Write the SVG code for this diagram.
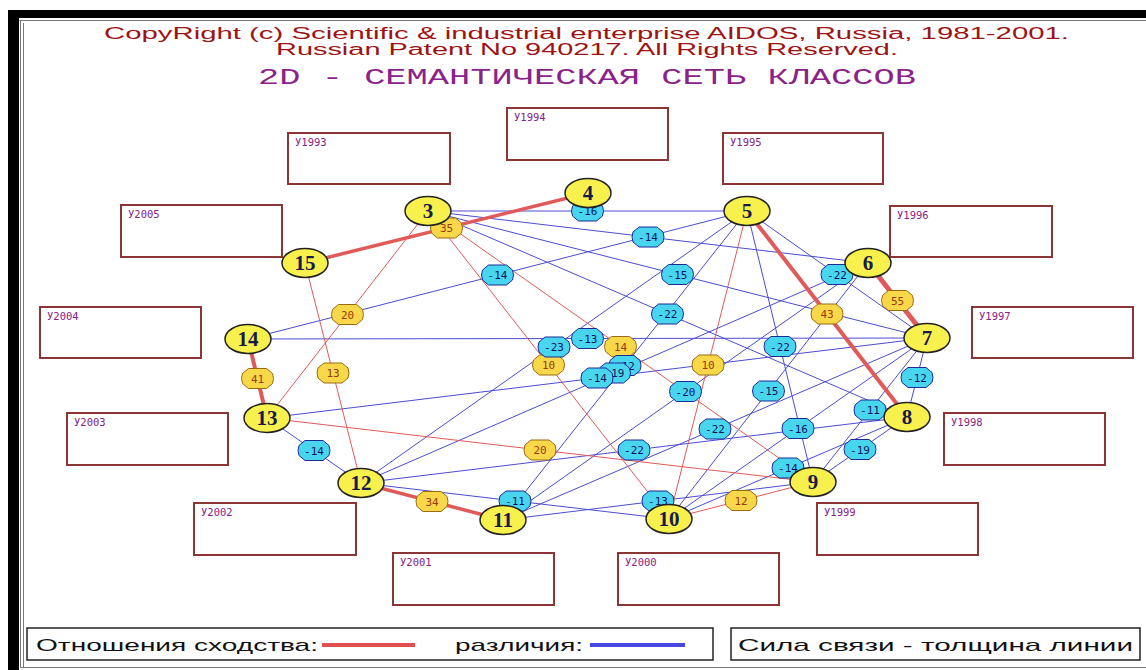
<svg xmlns="http://www.w3.org/2000/svg" xmlns:xlink="http://www.w3.org/1999/xlink" width="1146" height="670" viewBox="0 0 1146 670">
<style>
.hdr{font-family:"Liberation Sans",Arial,sans-serif;fill:#9c1414;font-size:16px}
.ttl{font-family:"Liberation Mono","DejaVu Sans Mono",monospace;fill:#8a228a;font-size:22px}
.box rect{fill:#fff;stroke:#8b3535;stroke-width:2}
.box text{font-family:"DejaVu Sans Mono",monospace;font-size:10.5px;fill:#862286}
.r{stroke:#e05a5a;fill:none}
.b{stroke:#4c4cd2;stroke-width:1;fill:none}
.by{fill:#f8d848;stroke:#9a6a10;stroke-width:1}
.bb{fill:#48d6ee;stroke:#1c2a9a;stroke-width:1}
.ly{font-family:"DejaVu Sans Mono",monospace;font-size:11px;fill:#9a3a10;text-anchor:middle}
.lb{font-family:"DejaVu Sans Mono",monospace;font-size:11px;fill:#141460;text-anchor:middle}
.node ellipse{fill:#f8f04c;stroke:#222;stroke-width:1.5}
.node text{font-family:"Liberation Serif",serif;font-weight:bold;font-size:21px;fill:#1a1a4a;text-anchor:middle}
.leg{font-family:"Liberation Sans",Arial,sans-serif;font-size:17px;fill:#111}
</style>
<defs>
<polygon id="oct" points="-9,-10 9,-10 15,-5 16,0 15,5 9,10 -9,10 -15,5 -16,0 -15,-5"/>
</defs>
<rect x="0" y="0" width="1146" height="670" fill="#fff"/>
<!-- frame -->
<rect x="8" y="10" width="1138" height="8" fill="#000"/>
<rect x="8" y="10" width="11" height="660" fill="#000"/>
<path d="M19.5 20.5H1146M20.5 20.5V667.5H1146M23.5 23V667" stroke="#777" stroke-width="1" fill="none"/>
<!-- header -->
<text class="hdr" x="104" y="39" textLength="965" lengthAdjust="spacingAndGlyphs">CopyRight (c) Scientific &amp; industrial enterprise AIDOS, Russia, 1981-2001.</text>
<text class="hdr" x="276" y="55" textLength="622" lengthAdjust="spacingAndGlyphs">Russian Patent No 940217. All Rights Reserved.</text>
<text class="ttl" x="258" y="84" textLength="658" lengthAdjust="spacingAndGlyphs">2D - СЕМАНТИЧЕСКАЯ СЕТЬ КЛАССОВ</text>
<!-- year boxes -->
<g id="box1993" class="box"><rect x="288" y="133" width="162" height="51"/><text x="295" y="146">У1993</text></g>
<g id="box1994" class="box"><rect x="507" y="108" width="161" height="52"/><text x="514" y="121">У1994</text></g>
<g id="box1995" class="box"><rect x="723" y="133" width="160" height="51"/><text x="730" y="146">У1995</text></g>
<g id="box1996" class="box"><rect x="890" y="206" width="162" height="51"/><text x="897" y="219">У1996</text></g>
<g id="box1997" class="box"><rect x="972" y="307" width="161" height="51"/><text x="979" y="320">У1997</text></g>
<g id="box1998" class="box"><rect x="944" y="413" width="161" height="52"/><text x="951" y="426">У1998</text></g>
<g id="box1999" class="box"><rect x="817" y="503" width="161" height="52"/><text x="824" y="516">У1999</text></g>
<g id="box2000" class="box"><rect x="618" y="553" width="161" height="52"/><text x="625" y="566">У2000</text></g>
<g id="box2001" class="box"><rect x="393" y="553" width="161" height="52"/><text x="400" y="566">У2001</text></g>
<g id="box2002" class="box"><rect x="194" y="503" width="162" height="52"/><text x="201" y="516">У2002</text></g>
<g id="box2003" class="box"><rect x="67" y="413" width="161" height="52"/><text x="74" y="426">У2003</text></g>
<g id="box2004" class="box"><rect x="40" y="307" width="161" height="51"/><text x="47" y="320">У2004</text></g>
<g id="box2005" class="box"><rect x="121" y="205" width="161" height="52"/><text x="128" y="218">У2005</text></g>
<!-- connectors -->
<g id="connectors">
<g class="b">
<line x1="428" y1="211" x2="747" y2="211"/>
<line x1="428" y1="211" x2="868" y2="263"/>
<line x1="248" y1="339" x2="747" y2="211"/>
<line x1="428" y1="211" x2="927" y2="338"/>
<line x1="747" y1="211" x2="927" y2="338"/>
<line x1="428" y1="211" x2="907" y2="417"/>
<line x1="248" y1="339" x2="927" y2="338"/>
<line x1="361" y1="483" x2="747" y2="211"/>
<line x1="503" y1="520" x2="747" y2="211"/>
<line x1="361" y1="483" x2="868" y2="263"/>
<line x1="267" y1="418" x2="927" y2="338"/>
<line x1="747" y1="211" x2="813" y2="482"/>
<line x1="503" y1="520" x2="868" y2="263"/>
<line x1="669" y1="519" x2="868" y2="263"/>
<line x1="503" y1="520" x2="927" y2="338"/>
<line x1="361" y1="483" x2="907" y2="417"/>
<line x1="669" y1="519" x2="927" y2="338"/>
<line x1="813" y1="482" x2="927" y2="338"/>
<line x1="927" y1="338" x2="907" y2="417"/>
<line x1="907" y1="417" x2="813" y2="482"/>
<line x1="669" y1="519" x2="907" y2="417"/>
<line x1="503" y1="520" x2="813" y2="482"/>
<line x1="361" y1="483" x2="669" y2="519"/>
<line x1="267" y1="418" x2="361" y2="483"/>
</g>
<g class="r">
<line x1="428" y1="211" x2="267" y2="418" stroke-width="1"/>
<line x1="305" y1="263" x2="361" y2="483" stroke-width="1"/>
<line x1="428" y1="211" x2="813" y2="482" stroke-width="1"/>
<line x1="428" y1="211" x2="669" y2="519" stroke-width="1"/>
<line x1="747" y1="211" x2="669" y2="519" stroke-width="1"/>
<line x1="267" y1="418" x2="813" y2="482" stroke-width="1"/>
<line x1="813" y1="482" x2="669" y2="519" stroke-width="1"/>
<line x1="305" y1="263" x2="588" y2="193" stroke-width="3.5"/>
<line x1="868" y1="263" x2="927" y2="338" stroke-width="5"/>
<line x1="747" y1="211" x2="907" y2="417" stroke-width="4"/>
<line x1="248" y1="339" x2="267" y2="418" stroke-width="4"/>
<line x1="361" y1="483" x2="503" y2="520" stroke-width="3.5"/>
</g>
<!-- edge labels -->
<g>
<use href="#oct" class="by" x="446.5" y="228"/><text class="ly" x="446.5" y="232">35</text>
<use href="#oct" class="by" x="897.5" y="300.5"/><text class="ly" x="897.5" y="304.5">55</text>
<use href="#oct" class="by" x="827" y="314"/><text class="ly" x="827" y="318">43</text>
<use href="#oct" class="by" x="347.5" y="314.5"/><text class="ly" x="347.5" y="318.5">20</text>
<use href="#oct" class="by" x="257.5" y="378.5"/><text class="ly" x="257.5" y="382.5">41</text>
<use href="#oct" class="by" x="333" y="373"/><text class="ly" x="333" y="377">13</text>
<use href="#oct" class="by" x="548.5" y="365"/><text class="ly" x="548.5" y="369">10</text>
<use href="#oct" class="by" x="708" y="365"/><text class="ly" x="708" y="369">10</text>
<use href="#oct" class="by" x="540" y="450"/><text class="ly" x="540" y="454">20</text>
<use href="#oct" class="by" x="432" y="501.5"/><text class="ly" x="432" y="505.5">34</text>
<use href="#oct" class="by" x="741" y="500.5"/><text class="ly" x="741" y="504.5">12</text>
<use href="#oct" class="bb" x="587.5" y="211"/><text class="lb" x="587.5" y="215">-16</text>
<use href="#oct" class="bb" x="648" y="237"/><text class="lb" x="648" y="241">-14</text>
<use href="#oct" class="bb" x="497.5" y="275"/><text class="lb" x="497.5" y="279">-14</text>
<use href="#oct" class="bb" x="677.5" y="274.5"/><text class="lb" x="677.5" y="278.5">-15</text>
<use href="#oct" class="bb" x="837" y="274.5"/><text class="lb" x="837" y="278.5">-22</text>
<use href="#oct" class="bb" x="667.5" y="314"/><text class="lb" x="667.5" y="318">-22</text>
<use href="#oct" class="bb" x="587.5" y="338.5"/><text class="lb" x="587.5" y="342.5">-13</text>
<use href="#oct" class="by" x="620.5" y="346.5"/><text class="ly" x="620.5" y="350.5">14</text>
<use href="#oct" class="bb" x="554" y="347"/><text class="lb" x="554" y="351">-23</text>
<use href="#oct" class="bb" x="625" y="365.5"/><text class="lb" x="625" y="369.5">-12</text>
<use href="#oct" class="bb" x="614.5" y="373"/><text class="lb" x="614.5" y="377">-19</text>
<use href="#oct" class="bb" x="597" y="378"/><text class="lb" x="597" y="382">-14</text>
<use href="#oct" class="bb" x="780" y="346.5"/><text class="lb" x="780" y="350.5">-22</text>
<use href="#oct" class="bb" x="685.5" y="391.5"/><text class="lb" x="685.5" y="395.5">-20</text>
<use href="#oct" class="bb" x="768.5" y="391"/><text class="lb" x="768.5" y="395">-15</text>
<use href="#oct" class="bb" x="715" y="429"/><text class="lb" x="715" y="433">-22</text>
<use href="#oct" class="bb" x="634" y="450"/><text class="lb" x="634" y="454">-22</text>
<use href="#oct" class="bb" x="798" y="428.5"/><text class="lb" x="798" y="432.5">-16</text>
<use href="#oct" class="bb" x="870" y="410"/><text class="lb" x="870" y="414">-11</text>
<use href="#oct" class="bb" x="917" y="377.5"/><text class="lb" x="917" y="381.5">-12</text>
<use href="#oct" class="bb" x="860" y="449.5"/><text class="lb" x="860" y="453.5">-19</text>
<use href="#oct" class="bb" x="788" y="468"/><text class="lb" x="788" y="472">-14</text>
<use href="#oct" class="bb" x="658" y="501"/><text class="lb" x="658" y="505">-13</text>
<use href="#oct" class="bb" x="515" y="501"/><text class="lb" x="515" y="505">-11</text>
<use href="#oct" class="bb" x="314" y="450.5"/><text class="lb" x="314" y="454.5">-14</text>
</g>
</g>
<!-- nodes -->
<g id="n3" class="node"><ellipse cx="428" cy="211" rx="23" ry="14.5"/><text x="428" y="218">3</text></g>
<g id="n4" class="node"><ellipse cx="588" cy="193" rx="23" ry="14.5"/><text x="588" y="200">4</text></g>
<g id="n5" class="node"><ellipse cx="747" cy="211" rx="23" ry="14.5"/><text x="747" y="218">5</text></g>
<g id="n6" class="node"><ellipse cx="868" cy="263" rx="23" ry="14.5"/><text x="868" y="270">6</text></g>
<g id="n7" class="node"><ellipse cx="927" cy="338" rx="23" ry="14.5"/><text x="927" y="345">7</text></g>
<g id="n8" class="node"><ellipse cx="907" cy="417" rx="23" ry="14.5"/><text x="907" y="424">8</text></g>
<g id="n9" class="node"><ellipse cx="813" cy="482" rx="23" ry="14.5"/><text x="813" y="489">9</text></g>
<g id="n10" class="node"><ellipse cx="669" cy="519" rx="23" ry="14.5"/><text x="669" y="526">10</text></g>
<g id="n11" class="node"><ellipse cx="503" cy="520" rx="23" ry="14.5"/><text x="503" y="527">11</text></g>
<g id="n12" class="node"><ellipse cx="361" cy="483" rx="23" ry="14.5"/><text x="361" y="490">12</text></g>
<g id="n13" class="node"><ellipse cx="267" cy="418" rx="23" ry="14.5"/><text x="267" y="425">13</text></g>
<g id="n14" class="node"><ellipse cx="248" cy="339" rx="23" ry="14.5"/><text x="248" y="346">14</text></g>
<g id="n15" class="node"><ellipse cx="305" cy="263" rx="23" ry="14.5"/><text x="305" y="270">15</text></g>
<!-- legend -->
<g id="legend">
<rect x="27" y="628" width="686" height="32" fill="#fff" stroke="#222" stroke-width="1.5"/>
<text class="leg" x="36" y="651" textLength="282" lengthAdjust="spacingAndGlyphs">Отношения сходства:</text>
<line x1="322" y1="645" x2="415" y2="645" stroke="#e05050" stroke-width="4"/>
<text class="leg" x="455" y="651" textLength="128" lengthAdjust="spacingAndGlyphs">различия:</text>
<line x1="590" y1="645" x2="685" y2="645" stroke="#4848e0" stroke-width="4"/>
<rect x="731" y="628" width="409" height="32" fill="#fff" stroke="#222" stroke-width="1.5"/>
<text class="leg" x="738" y="651" textLength="395" lengthAdjust="spacingAndGlyphs">Сила связи - толщина линии</text>
</g>
</svg>
